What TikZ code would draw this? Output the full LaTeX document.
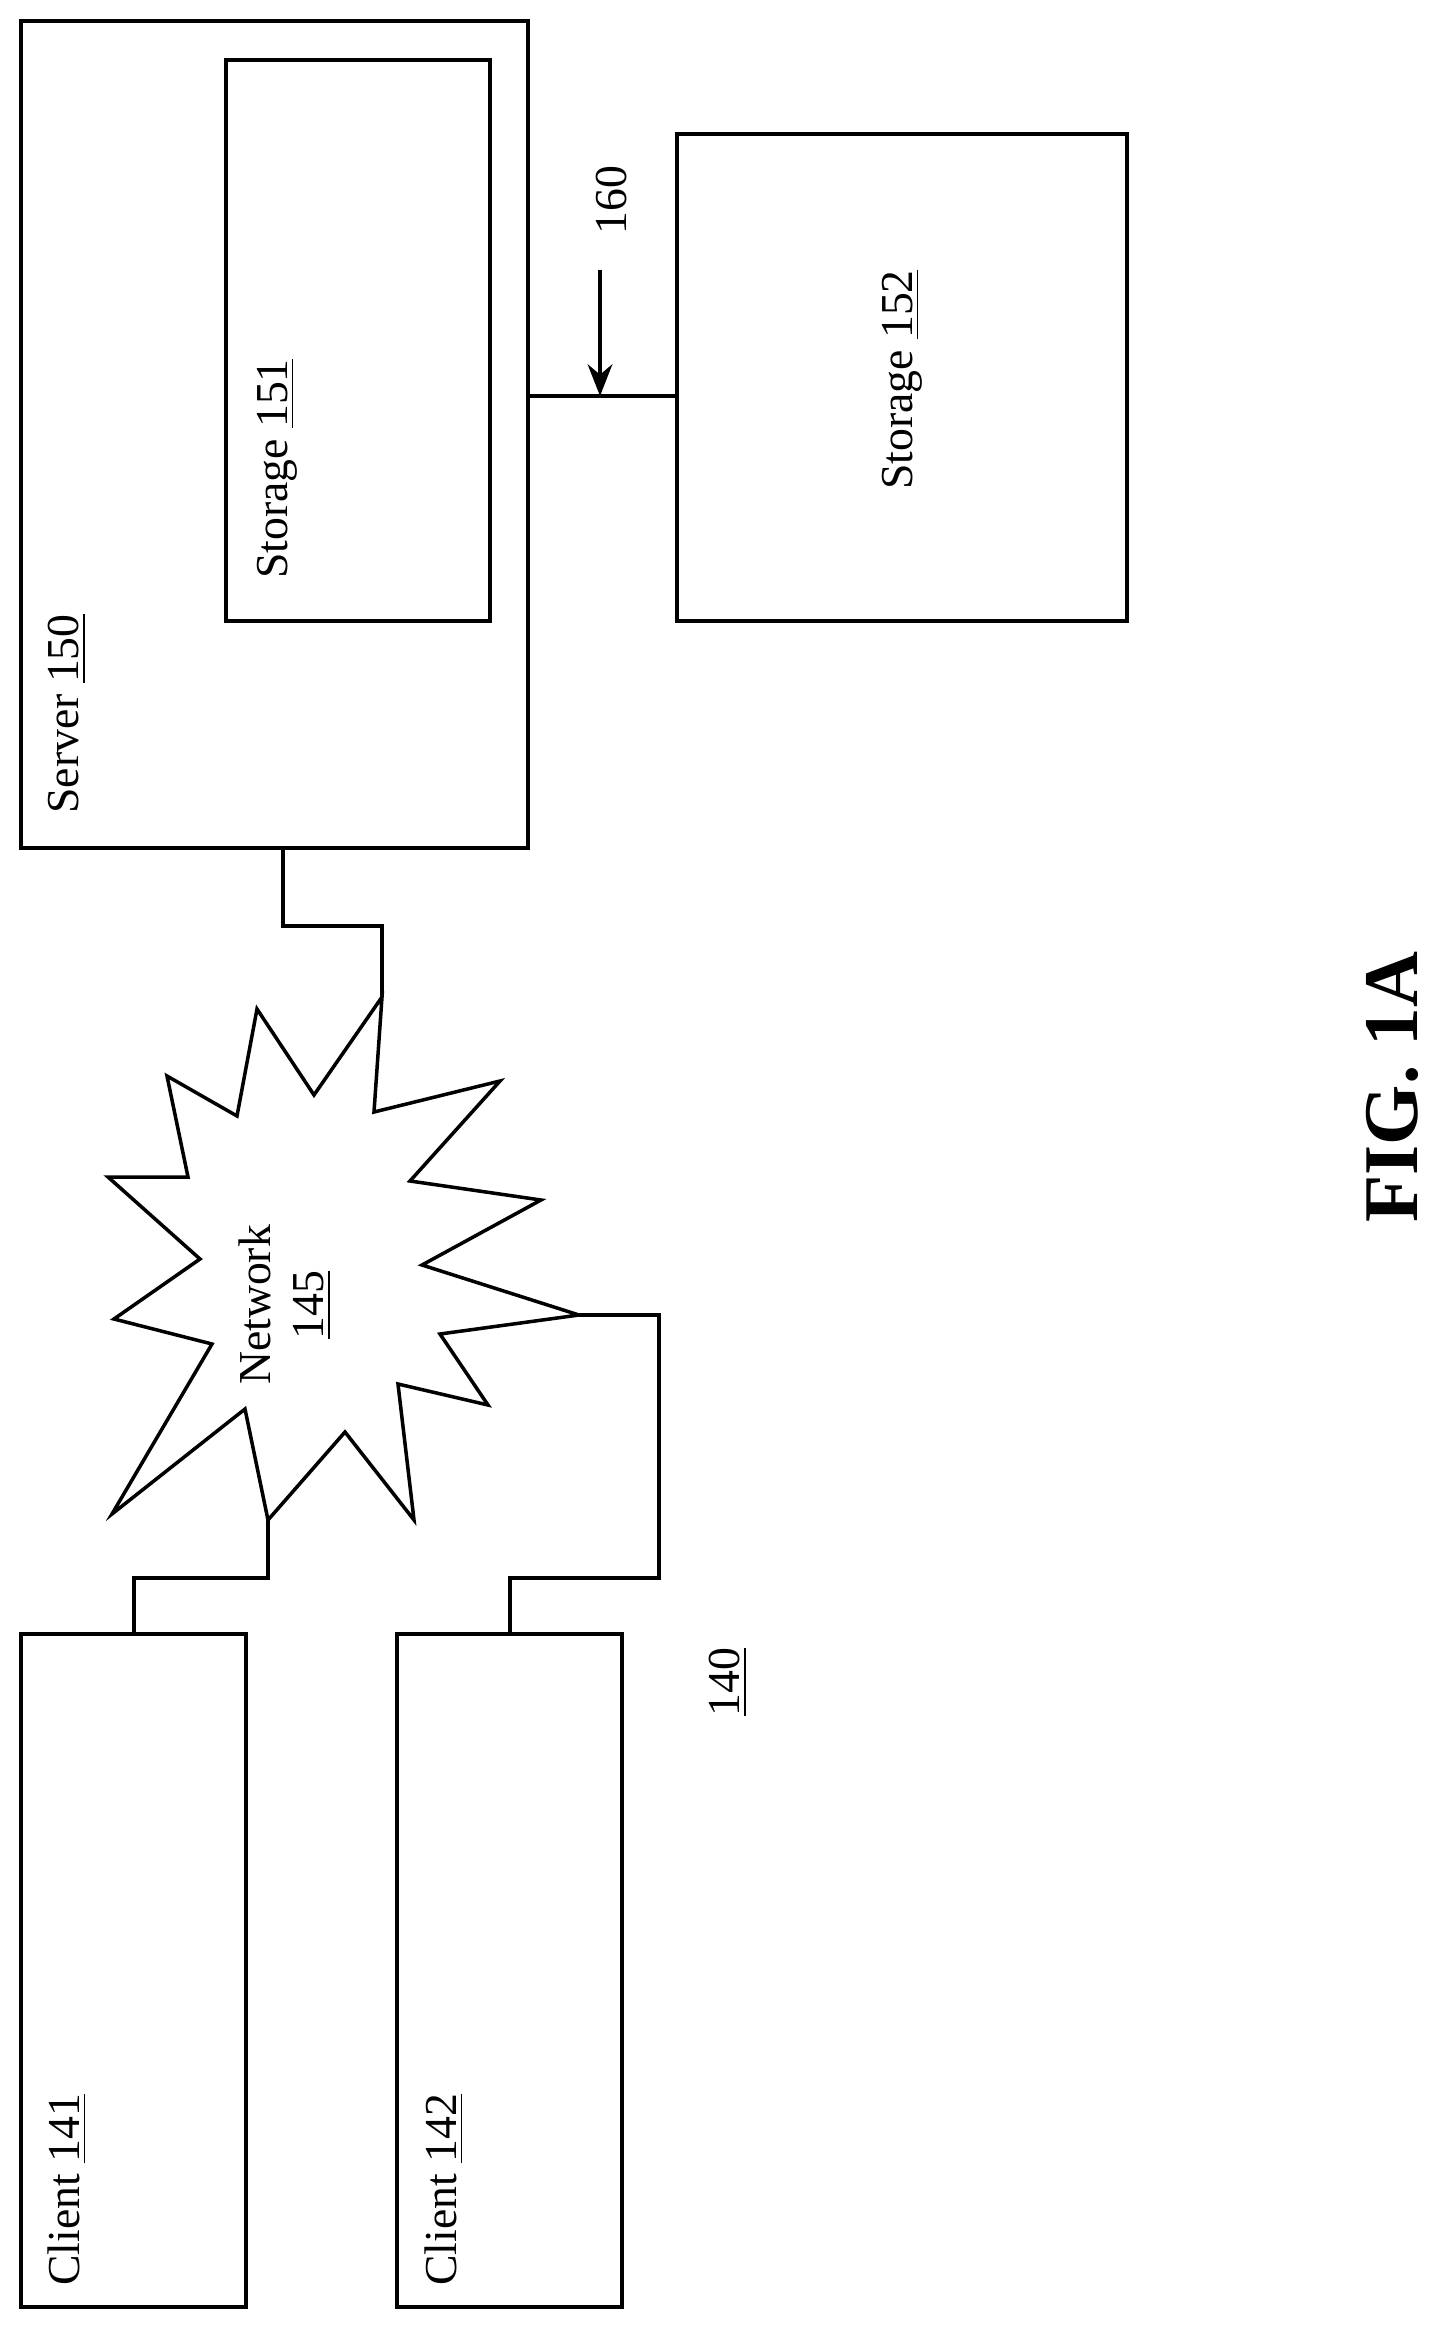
\documentclass[tikz,border=0pt]{standalone}
\usepackage{fontspec}
\setmainfont{Liberation Serif}
\usetikzlibrary{arrows.meta,positioning,calc}
\tikzset{
    % Boxes and lines
    box/.style={draw,line width=1pt,inner sep=0pt},
    wire/.style={line width=1.2pt},
    arrow tip/.tip={Stealth[length=9pt,width=7pt]},
    arr/.style={->,>={arrow tip},line width=1.2pt},
    lbl/.style={rotate=90,font=\fontsize{13}{15}\selectfont}
}
\begin{document}
\begin{tikzpicture}[x=0.01cm,y=-0.01cm]
    \useasboundingbox (0,0) rectangle (1429,2331);
    % boxes
    \node[box,minimum width=5.07cm,minimum height=8.27cm] (server) at (274.5,434.5) {};
    \node[box,minimum width=2.64cm,minimum height=5.61cm] (st151) at (358,340.5) {};
    \node[box,minimum width=4.5cm,minimum height=4.87cm] (st152) at (902,377.5) {};
    \node[box,minimum width=2.25cm,minimum height=6.73cm] (cl141) at (133.5,1970.5) {};
    \node[box,minimum width=2.25cm,minimum height=6.73cm] (cl142) at (509.5,1970.5) {};
    % texts
    \node[lbl] (tserver) at (67,714) {Server \underline{150}};
    \node[lbl] (t151) at (277,469) {Storage \underline{151}};
    \node[lbl] (t152) at (902,380) {Storage \underline{152}};
    \node[lbl] (t141) at (67,2190) {Client \underline{141}};
    \node[lbl] (t142) at (444,2190) {Client \underline{142}};
    \node[lbl] (t140) at (728,1682) {\underline{140}};
    \node[lbl] (t160) at (612,200) {160};
    \node[lbl,align=center] (tnet) at (285,1305) {Network\\\underline{145}};
    \node[rotate=90,font=\fontsize{22}{26}\selectfont\bfseries] (fig) at (1392,1087) {FIG. 1A};
    % network star
    \draw[line width=1pt] (382,997) coordinate (ntop) -- (374,1112) -- (500,1081) -- (410,1181)
        -- (541,1200) -- (422,1265) -- (579,1315) coordinate (nright) -- (440,1334)
        -- (488,1405) -- (398,1384) -- (414,1520) -- (345,1432) -- (268,1520) coordinate (nbot)
        -- (245,1409) -- (112,1514) -- (212,1344) -- (114,1319) -- (200,1259) -- (108,1177)
        -- (188,1177) -- (167,1076) -- (237,1116) -- (257,1009) -- (314,1095) -- cycle;
    % connectors
    \coordinate (sdown) at (283,848);
    \draw[wire] (sdown) |- (382,926) -- (ntop);
    \draw[wire] (nbot) -- (268,1578) -| (cl141.north -| 134,0);
    \draw[wire] (nright) -| (659,1578) -| (cl142.north -| 510,0);
    \draw[wire] (server.east |- 0,396) -- (st152.west |- 0,396);
    \coordinate (a160) at (600,270);
    \draw[arr] (a160) -- (600,396);
\end{tikzpicture}
\end{document}
